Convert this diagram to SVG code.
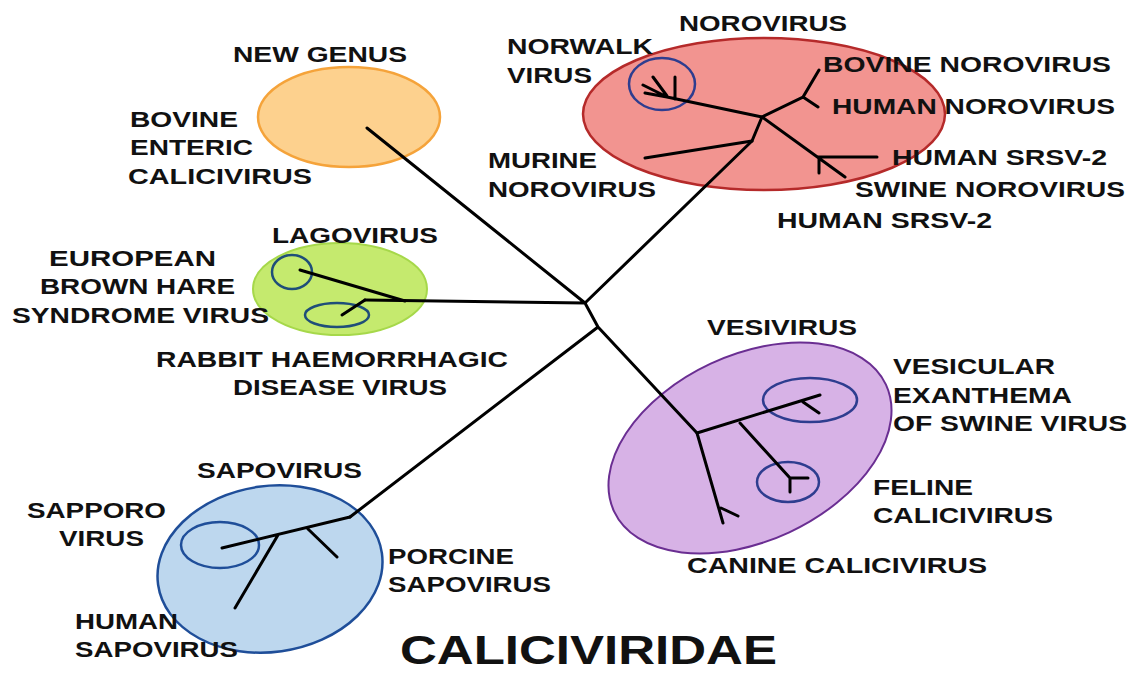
<svg xmlns="http://www.w3.org/2000/svg" width="1132" height="673" viewBox="0 0 1132 673">
<style>
text{font-family:"Liberation Sans",Arial,sans-serif;font-weight:bold;font-size:22px;fill:#111}
.big{font-size:40px}
.br{fill:none;stroke:#000;stroke-width:3;stroke-linecap:round}
.sub{fill:none;stroke:#2E3D8F;stroke-width:2.5}
</style>
<rect width="1132" height="673" fill="#fff"/>
<g id="newgenus">
<ellipse cx="349" cy="117" rx="91" ry="50" fill="#FDD18E" stroke="#F5A33A" stroke-width="2.5"/>
<text x="233" y="62" textLength="174" lengthAdjust="spacingAndGlyphs">NEW GENUS</text>
<text x="130" y="127" textLength="108" lengthAdjust="spacingAndGlyphs">BOVINE</text>
<text x="130" y="155" textLength="123" lengthAdjust="spacingAndGlyphs">ENTERIC</text>
<text x="128" y="184" textLength="184" lengthAdjust="spacingAndGlyphs">CALICIVIRUS</text>
</g>
<g id="norovirus">
<ellipse cx="764" cy="114" rx="181" ry="76" fill="#F29490" stroke="#B52A2A" stroke-width="2.5"/>
<ellipse cx="662" cy="84" rx="33" ry="26" class="sub"/>
<text x="679" y="31" textLength="168" lengthAdjust="spacingAndGlyphs">NOROVIRUS</text>
<text x="507" y="54" textLength="146" lengthAdjust="spacingAndGlyphs">NORWALK</text>
<text x="507" y="83" textLength="85" lengthAdjust="spacingAndGlyphs">VIRUS</text>
<text x="823" y="72" textLength="288" lengthAdjust="spacingAndGlyphs">BOVINE NOROVIRUS</text>
<text x="832" y="114" textLength="283" lengthAdjust="spacingAndGlyphs">HUMAN NOROVIRUS</text>
<text x="892" y="165" textLength="215" lengthAdjust="spacingAndGlyphs">HUMAN SRSV-2</text>
<text x="855" y="197" textLength="270" lengthAdjust="spacingAndGlyphs">SWINE NOROVIRUS</text>
<text x="777" y="228" textLength="215" lengthAdjust="spacingAndGlyphs">HUMAN SRSV-2</text>
<text x="488" y="168" textLength="109" lengthAdjust="spacingAndGlyphs">MURINE</text>
<text x="488" y="197" textLength="168" lengthAdjust="spacingAndGlyphs">NOROVIRUS</text>
</g>
<g id="lagovirus">
<ellipse cx="340" cy="289" rx="87" ry="46" fill="#C5EA6E" stroke="#A6D84A" stroke-width="2"/>
<ellipse cx="292" cy="272" rx="20" ry="17" fill="none" stroke="#1F4E79" stroke-width="2.5"/>
<ellipse cx="337" cy="315" rx="32" ry="12" fill="none" stroke="#1F4E79" stroke-width="2.5"/>
<text x="272" y="243" textLength="166" lengthAdjust="spacingAndGlyphs">LAGOVIRUS</text>
<text x="49" y="266" textLength="167" lengthAdjust="spacingAndGlyphs">EUROPEAN</text>
<text x="40" y="294" textLength="195" lengthAdjust="spacingAndGlyphs">BROWN HARE</text>
<text x="12" y="323" textLength="257" lengthAdjust="spacingAndGlyphs">SYNDROME VIRUS</text>
<text x="156" y="367" textLength="352" lengthAdjust="spacingAndGlyphs">RABBIT HAEMORRHAGIC</text>
<text x="233" y="395" textLength="214" lengthAdjust="spacingAndGlyphs">DISEASE VIRUS</text>
</g>
<g id="vesivirus">
<ellipse cx="750" cy="448" rx="150" ry="93" transform="rotate(-25 750 448)" fill="#D7B2E6" stroke="#6A2E92" stroke-width="2"/>
<ellipse cx="810" cy="400" rx="47" ry="22" class="sub"/>
<ellipse cx="788" cy="482" rx="31" ry="20" class="sub"/>
<text x="707" y="335" textLength="150" lengthAdjust="spacingAndGlyphs">VESIVIRUS</text>
<text x="893" y="374" textLength="162" lengthAdjust="spacingAndGlyphs">VESICULAR</text>
<text x="893" y="403" textLength="179" lengthAdjust="spacingAndGlyphs">EXANTHEMA</text>
<text x="893" y="431" textLength="234" lengthAdjust="spacingAndGlyphs">OF SWINE VIRUS</text>
<text x="873" y="495" textLength="100" lengthAdjust="spacingAndGlyphs">FELINE</text>
<text x="873" y="523" textLength="180" lengthAdjust="spacingAndGlyphs">CALICIVIRUS</text>
<text x="687" y="573" textLength="300" lengthAdjust="spacingAndGlyphs">CANINE CALICIVIRUS</text>
</g>
<g id="sapovirus">
<ellipse cx="270" cy="569" rx="113" ry="83" transform="rotate(-8 270 569)" fill="#BDD7EE" stroke="#1F4E99" stroke-width="2.5"/>
<ellipse cx="220" cy="545" rx="39" ry="23" fill="none" stroke="#1F4E99" stroke-width="2.5"/>
<text x="197" y="478" textLength="165" lengthAdjust="spacingAndGlyphs">SAPOVIRUS</text>
<text x="27" y="518" textLength="139" lengthAdjust="spacingAndGlyphs">SAPPORO</text>
<text x="59" y="546" textLength="85" lengthAdjust="spacingAndGlyphs">VIRUS</text>
<text x="388" y="564" textLength="126" lengthAdjust="spacingAndGlyphs">PORCINE</text>
<text x="388" y="592" textLength="163" lengthAdjust="spacingAndGlyphs">SAPOVIRUS</text>
<text x="75" y="629" textLength="103" lengthAdjust="spacingAndGlyphs">HUMAN</text>
<text x="75" y="657" textLength="163" lengthAdjust="spacingAndGlyphs">SAPOVIRUS</text>
</g>
<g id="title">
<text class="big" x="400" y="664" textLength="377" lengthAdjust="spacingAndGlyphs">CALICIVIRIDAE</text>
</g>
<g id="connectors">
<path class="br" d="M367,128 L585,303 M365,300 L585,303 M585,303 L598,327 M598,327 L697,433 M598,327 L350,517 M585,303 L752,141 L762,117"/>
<path class="br" d="M300,270 L405,301 M342,315 L365,300"/>
<path class="br" d="M645,158 L752,141 M762,117 L667,97 M643,85 L667,97 M645,93 L667,97 M653,77 L667,96 M675,77 L675,99 M762,117 L803,97 L819,70 M803,97 L818,107 M762,117 L845,177 M818,157 L877,157 M819,157 L819,173"/>
<path class="br" d="M697,433 L820,395 M803,402 L819,413 M740,423 L790,478 L808,478 M790,478 L790,492 M697,433 L723,523 M721,508 L738,516"/>
<path class="br" d="M350,517 L222,548 M278,535 L235,608 M308,529 L337,557"/>
</g>
</svg>
